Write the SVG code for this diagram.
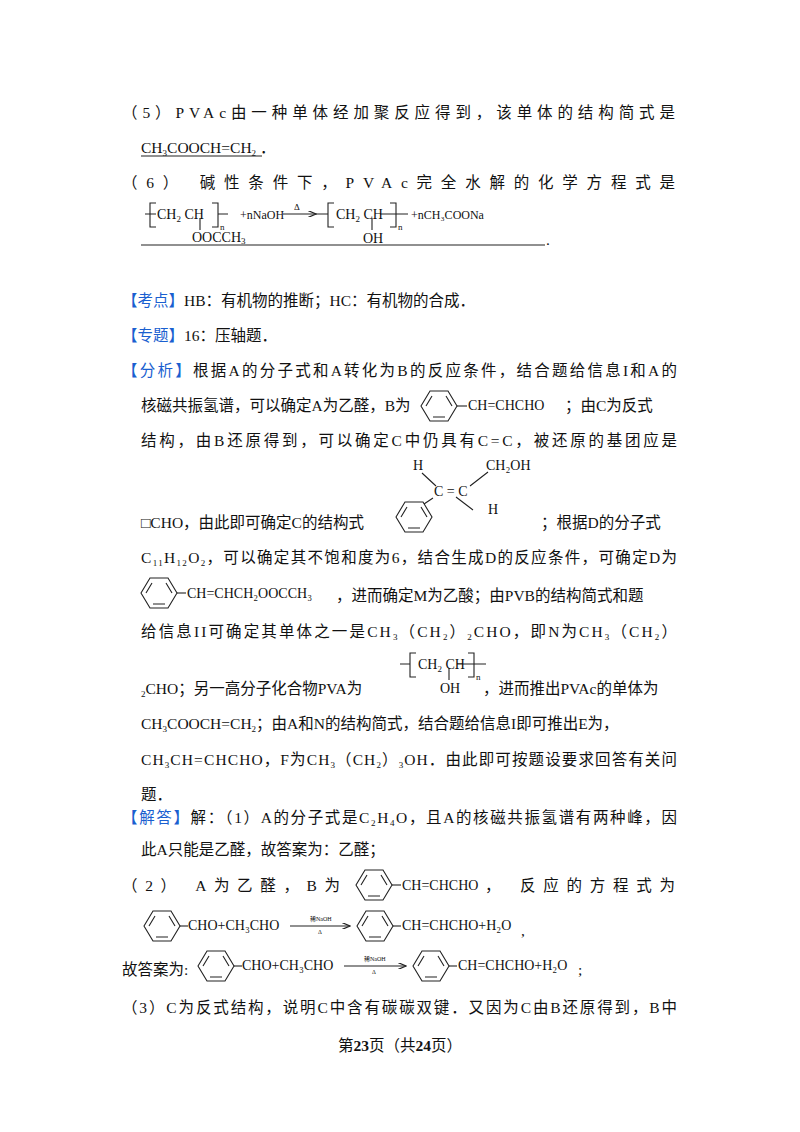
<svg xmlns="http://www.w3.org/2000/svg" width="800" height="1132" viewBox="0 0 800 1132">
<style>
text{font-family:"Liberation Serif","Noto Sans CJK SC",serif;font-size:15.5px;fill:#111}
.s{font-size:14px}
.xs{font-size:9px}
.m{font-size:12px}
.t{font-size:6px}
.b{fill:#1a5fd0}
.ln{stroke:#222;stroke-width:1.1;fill:none}
</style>
<defs>
<g id="ring"><polygon class="ln" points="0,15 9,0 27,0 36,15 27,30 9,30"/><path class="ln" d="M5,15 L11,5 M12,26 L24,26 M25,5 L31,15"/></g>
<marker id="ah" markerWidth="8" markerHeight="6" refX="7" refY="3" orient="auto"><path d="M0,0 L7,3 L0,6" class="ln"/></marker>
</defs>
<rect width="800" height="1132" fill="#fff"/>
<g id="q5">
<text x="122" y="118" textLength="553" lengthAdjust="spacing">（5）PVAc由一种单体经加聚反应得到，该单体的结构简式是</text>
<text x="141" y="153">CH<tspan class="xs" dy="3">3</tspan><tspan dy="-3">COOCH=CH</tspan><tspan class="xs" dy="3">2</tspan><tspan dy="-3">  ．</tspan></text>
<line class="ln" x1="141" y1="156" x2="262" y2="156"/>
</g>
<g id="q6">
<text x="122" y="188" textLength="553" lengthAdjust="spacing">（6） 碱性条件下，PVAc完全水解的化学方程式是</text>
<g class="eq">
<path class="ln" d="M145,214 L156,214 M156,203 L150,203 L150,227 L156,227 M212,203 L218,203 L218,227 L212,227 M218,214 L228,214 M200,218 L200,230"/>
<text class="s" x="157" y="219">CH<tspan class="xs" dy="3">2</tspan><tspan dy="-3"> CH</tspan></text>
<text class="xs" x="220" y="230">n</text>
<text class="s" x="192" y="242">OOCCH<tspan class="xs" dy="2">3</tspan></text>
<text class="m" x="240" y="219">+nNaOH</text>
<line class="ln" x1="283" y1="214" x2="316" y2="214" marker-end="url(#ah)"/>
<text class="xs" x="294" y="210">Δ</text>
<path class="ln" d="M316,214 L328,214 M334,203 L328,203 L328,227 L334,227 M390,203 L396,203 L396,227 L390,227 M380,214 L408,214 M372,218 L372,230"/>
<text class="s" x="336" y="219">CH<tspan class="xs" dy="3">2</tspan><tspan dy="-3"> CH</tspan></text>
<text class="xs" x="398" y="230">n</text>
<text class="s" x="363" y="243">OH</text>
<text class="m" x="411" y="219">+nCH₃COONa</text>
</g>
<line class="ln" x1="141" y1="245" x2="545" y2="245"/>
<text x="546" y="245">.</text>
</g>
<g id="body">
<text x="122" y="306"><tspan class="b">【考点】</tspan>HB：有机物的推断；HC：有机物的合成．</text>
<text x="122" y="341"><tspan class="b">【专题】</tspan>16：压轴题．</text>
<text x="122" y="376" textLength="555" lengthAdjust="spacing"><tspan class="b">【分析】</tspan>根据A的分子式和A转化为B的反应条件，结合题给信息I和A的</text>
<text x="141" y="411">核磁共振氢谱，可以确定A为乙醛，B为</text>
<use href="#ring" x="421" y="391"/><line class="ln" x1="457" y1="406" x2="467" y2="406"/>
<text class="s" x="468" y="410">CH=CHCHO</text>
<text x="565" y="411">；由C为反式</text>
<text x="141" y="446" textLength="536" lengthAdjust="spacing">结构，由B还原得到，可以确定C中仍具有C=C，被还原的基团应是</text>
<text class="s" x="413" y="470">H</text><text class="s" x="486" y="470">CH₂OH</text>
<path class="ln" d="M422,473 L436,486 M470,486 L488,472 M456,497 L473,510 M433,498 L424,504"/>
<text class="s" x="434" y="496">C = C</text>
<text class="s" x="488" y="514">H</text>
<use href="#ring" x="396" y="502"/>
<text x="141" y="528">□CHO，由此即可确定C的结构式</text>
<text x="541" y="528">；根据D的分子式</text>
<text x="141" y="563" textLength="536" lengthAdjust="spacing">C<tspan class="xs" dy="3">11</tspan><tspan dy="-3">H</tspan><tspan class="xs" dy="3">12</tspan><tspan dy="-3">O</tspan><tspan class="xs" dy="3">2</tspan><tspan dy="-3">，可以确定其不饱和度为6，结合生成D的反应条件，可确定D为</tspan></text>
<use href="#ring" x="141" y="578"/><line class="ln" x1="177" y1="593" x2="186" y2="593"/>
<text class="s" x="187" y="598">CH=CHCH₂OOCCH₃</text>
<text x="336" y="601">，进而确定M为乙酸；由PVB的结构简式和题</text>
<text x="141" y="637" textLength="536" lengthAdjust="spacing">给信息II可确定其单体之一是CH<tspan class="xs" dy="3">3</tspan><tspan dy="-3">（CH</tspan><tspan class="xs" dy="3">2</tspan><tspan dy="-3">）</tspan><tspan class="xs" dy="3">2</tspan><tspan dy="-3">CHO，即N为CH</tspan><tspan class="xs" dy="3">3</tspan><tspan dy="-3">（CH</tspan><tspan class="xs" dy="3">2</tspan><tspan dy="-3">）</tspan></text>
<path class="ln" d="M400,664 L410,664 M416,653 L410,653 L410,677 L416,677 M468,653 L474,653 L474,677 L468,677 M457,664 L486,664 M449,668 L449,680"/>
<text class="s" x="418" y="669">CH<tspan class="xs" dy="3">2</tspan><tspan dy="-3"> CH</tspan></text>
<text class="xs" x="476" y="680">n</text>
<text class="s" x="440" y="693">OH</text>
<text x="141" y="694"><tspan class="xs" dy="3">2</tspan><tspan dy="-3">CHO；另一高分子化合物PVA为</tspan></text>
<text x="483" y="694">，进而推出PVAc的单体为</text>
<text x="141" y="729">CH<tspan class="xs" dy="3">3</tspan><tspan dy="-3">COOCH=CH</tspan><tspan class="xs" dy="3">2</tspan><tspan dy="-3">；由A和N的结构简式，结合题给信息I即可推出E为，</tspan></text>
<text x="141" y="765" textLength="536" lengthAdjust="spacing">CH<tspan class="xs" dy="3">3</tspan><tspan dy="-3">CH=CHCHO，F为CH</tspan><tspan class="xs" dy="3">3</tspan><tspan dy="-3">（CH</tspan><tspan class="xs" dy="3">2</tspan><tspan dy="-3">）</tspan><tspan class="xs" dy="3">3</tspan><tspan dy="-3">OH．由此即可按题设要求回答有关问</tspan></text>
<text x="141" y="800">题．</text>
<text x="122" y="823" textLength="555" lengthAdjust="spacing"><tspan class="b">【解答】</tspan>解：（1）A的分子式是C<tspan class="xs" dy="3">2</tspan><tspan dy="-3">H</tspan><tspan class="xs" dy="3">4</tspan><tspan dy="-3">O，且A的核磁共振氢谱有两种峰，因</tspan></text>
<text x="141" y="855">此A只能是乙醛，故答案为：乙醛；</text>
<text x="122" y="891" textLength="218" lengthAdjust="spacing">（2） A为乙醛，B为</text>
<use href="#ring" x="356" y="870"/><line class="ln" x1="392" y1="885" x2="401" y2="885"/>
<text class="s" x="402" y="890">CH=CHCHO</text>
<text x="485" y="891" textLength="190" lengthAdjust="spacing">， 反应的方程式为</text>
<use href="#ring" x="144" y="911"/><line class="ln" x1="180" y1="926" x2="188" y2="926"/>
<text class="s" x="188" y="930">CHO+CH₃CHO</text>
<line class="ln" x1="290" y1="926" x2="350" y2="926" marker-end="url(#ah)"/>
<text class="t" x="310" y="921">稀NaOH</text><text class="t" x="318" y="934">Δ</text>
<use href="#ring" x="357" y="911"/><line class="ln" x1="393" y1="926" x2="401" y2="926"/>
<text class="s" x="402" y="930">CH=CHCHO+H₂O</text>
<text x="521" y="936">,</text>
<text x="122" y="975">故答案为:</text>
<use href="#ring" x="198" y="951"/><line class="ln" x1="234" y1="966" x2="242" y2="966"/>
<text class="s" x="242" y="970">CHO+CH₃CHO</text>
<line class="ln" x1="344" y1="966" x2="406" y2="966" marker-end="url(#ah)"/>
<text class="t" x="364" y="961">稀NaOH</text><text class="t" x="372" y="974">Δ</text>
<use href="#ring" x="413" y="951"/><line class="ln" x1="449" y1="966" x2="457" y2="966"/>
<text class="s" x="458" y="970">CH=CHCHO+H₂O</text>
<text x="578" y="975">;</text>
<text x="122" y="1013" textLength="555" lengthAdjust="spacing">（3）C为反式结构，说明C中含有碳碳双键．又因为C由B还原得到，B中</text>
<text x="400" y="1051" text-anchor="middle" font-size="12">第<tspan font-weight="bold">23</tspan>页（共<tspan font-weight="bold">24</tspan>页）</text>
</g>
</svg>
